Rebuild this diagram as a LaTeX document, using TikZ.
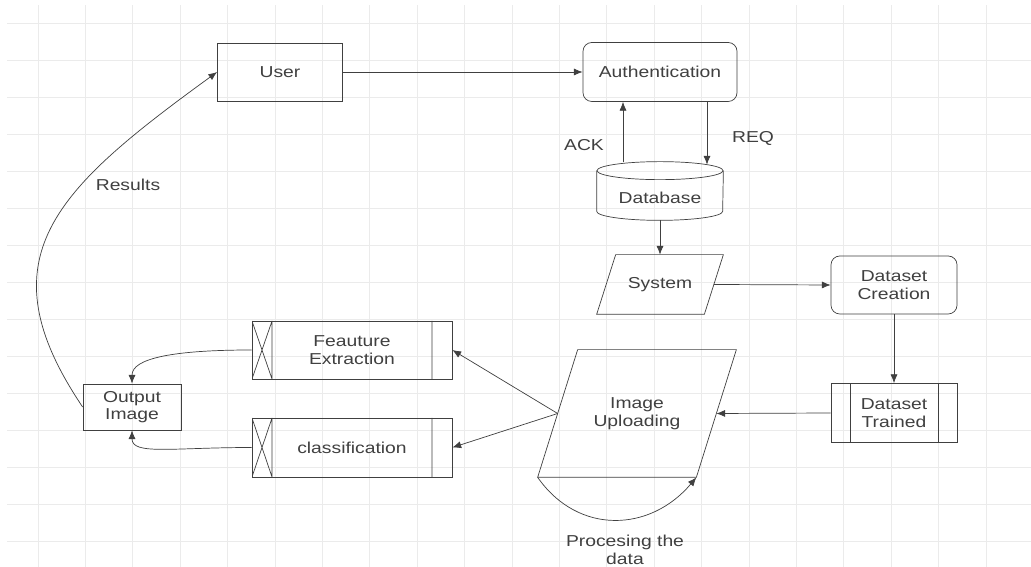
\documentclass[tikz,border=0pt]{standalone}
\usepackage{fontspec}
\setmainfont{Liberation Sans}[FakeStretch=1.22]
\usepackage{tikz}
\usetikzlibrary{positioning,calc,arrows.meta}
\definecolor{ink}{HTML}{404040}
\definecolor{gridc}{HTML}{EBEBEB}
\tikzset{block/.style={draw=ink, thin, text=ink, font=\fontsize{9}{10}\selectfont, align=center, inner sep=2pt},
         box/.style={block, rectangle},
         rbox/.style={block, rectangle, rounded corners=5pt},
         slant/.style={rectangle, text=ink, font=\fontsize{9}{10}\selectfont, align=center, inner sep=2pt},
         proc/.style={box, path picture={
            \draw[ink] ([xshift=3.8mm]path picture bounding box.north west) -- ([xshift=3.8mm]path picture bounding box.south west)
                       ([xshift=-3.8mm]path picture bounding box.north east) -- ([xshift=-3.8mm]path picture bounding box.south east);}},
         task/.style={box, path picture={
            \draw[ink] ([xshift=4mm]path picture bounding box.north west) -- ([xshift=4mm]path picture bounding box.south west)
                       ([xshift=-4mm]path picture bounding box.north east) -- ([xshift=-4mm]path picture bounding box.south east)
                       (path picture bounding box.north west) -- ([xshift=4mm]path picture bounding box.south west)
                       (path picture bounding box.south west) -- ([xshift=4mm]path picture bounding box.north west);}},
         dbbox/.style={rectangle, text=ink, font=\fontsize{9}{10}\selectfont, text height=5.1mm, text depth=0mm},
         lbl/.style={text=ink, font=\fontsize{9}{10}\selectfont, align=center, inner sep=0pt},
         line/.style={->, draw=ink, thin}
}
% parallelogram outline round a slant node: #1 name, #2 slant
\newcommand{\paraedge}[2]{\draw[ink, thin] ([xshift=#2]#1.north west) -- (#1.north east) -- ([xshift=-#2]#1.south east) -- (#1.south west) -- cycle;}

\begin{document}
\begin{tikzpicture}[x=0.2mm, y=0.2mm, >={Latex[length=5pt,width=4pt]}]
    \useasboundingbox (0,0) rectangle (1031,567);
    \fill[white] (0,0) rectangle (1031,567);
    % background grid
    \foreach \i in {0,...,20}
        \draw[gridc, line width=0.5pt] ({38+47.4*\i},0) -- ({38+47.4*\i},562);
    \foreach \j in {0,...,14}
        \draw[gridc, line width=0.5pt] (7,{544-37*\j}) -- (1031,{544-37*\j});

    \node[box, minimum width=25mm, minimum height=11.6mm] (user) at (280,495) {User};
    \node[rbox, minimum width=30.8mm, minimum height=11.8mm] (auth) at (660,495) {Authentication};
    \node[dbbox, minimum width=25.2mm, minimum height=11.6mm] (db) at (660,376) {Database};
    \draw[ink, thin] ([yshift=-1.8mm]db.north west) -- ([yshift=1.8mm]db.south west)
        arc[start angle=180, end angle=360, x radius=12.6mm, y radius=1.8mm] -- ([yshift=-1.8mm]db.north east);
    \draw[ink, thin] ([yshift=-1.8mm]db.north) ellipse [x radius=12.6mm, y radius=1.8mm];
    \node[slant, minimum width=25.2mm, minimum height=11.8mm] (sys) at (660,282.5) {System};
    \paraedge{sys}{3.8mm}
    \node[rbox, minimum width=25.2mm, minimum height=11.6mm] (dc) at (894,282) {Dataset\\Creation};
    \node[proc, minimum width=25.2mm, minimum height=11.8mm] (dt) at (894,154) {Dataset\\Trained};
    \node[slant, minimum width=39.6mm, minimum height=25.4mm] (iu) at (637,153.5) {Image\\Uploading};
    \paraedge{iu}{8mm}
    \node[task, minimum width=40mm, minimum height=11.6mm] (fe) at (352,217) {Feauture\\Extraction};
    \node[task, minimum width=40mm, minimum height=11.8mm] (cl) at (352,119.5) {classification};
    \node[box, minimum width=19.6mm, minimum height=9.2mm] (oi) at (132,160) {Output\\Image};

    \node[lbl] (ack) at (584,422) {ACK};
    \node[lbl] (req) at (753,429) {REQ};
    \node[lbl] (res) at (128,382) {Results};
    \node[lbl] (pdata) at (625,17) {Procesing the\\data};

    \draw[line] (user) -- (auth);
    \draw[line] ([xshift=-7.4mm]db.north) -- ([xshift=-7.4mm]auth.south);
    \draw[line] ([xshift=9.4mm]auth.south) -- ([xshift=9.4mm,yshift=-0.6mm]db.north);
    \draw[line] (db.south) -- (sys.north);
    \draw[line] ([xshift=-1.9mm]sys.east) -- (dc.west);
    \draw[line] (dc.south) -- (dt.north);
    \draw[line] (dt.west) -- ([xshift=-4mm]iu.east);
    \draw[line] (iu.south west) to[out=-55, in=-130, looseness=1.15] ([xshift=-8mm]iu.south east);
    \draw[line] ([xshift=4mm]iu.west) -- (fe.east);
    \draw[line] ([xshift=4mm]iu.west) -- (cl.east);
    \draw[line] (fe.west) to[out=180, in=90, out distance=16mm, in distance=5mm] (oi.north);
    \draw[line] (cl.west) to[out=180, in=270, out distance=16mm, in distance=5mm] (oi.south);
    \draw[line] (oi.west) to[out=124, in=216, out distance=36mm, in distance=40mm] (user.west);
\end{tikzpicture}
\end{document}
